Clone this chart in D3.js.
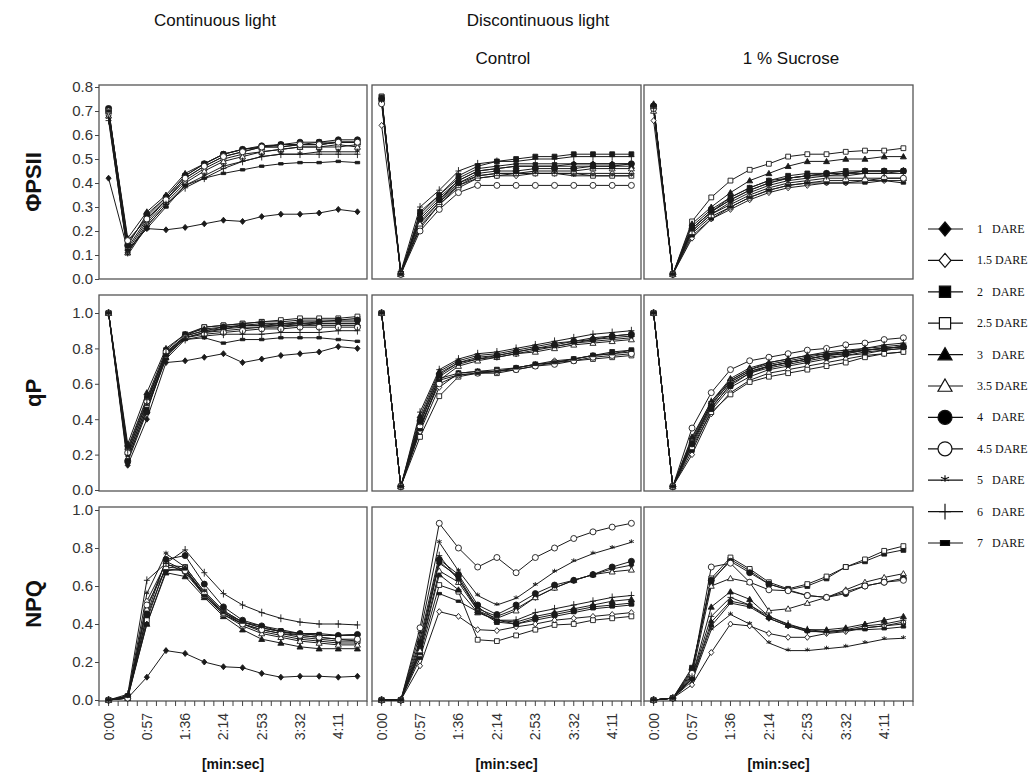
<!DOCTYPE html>
<html><head><meta charset="utf-8">
<script src="https://cdn.jsdelivr.net/npm/d3@7"></script>
<style>body{margin:0;background:#fff}</style>
</head><body><svg id="c" width="1034" height="773"></svg>
<script>
// ---------- data ----------
const seriesNames = ["1 DARE","1.5 DARE","2 DARE","2.5 DARE","3 DARE","3.5 DARE","4 DARE","4.5 DARE","5 DARE","6 DARE","7 DARE"];
const legendLabels = ["1   DARE","1.5 DARE","2   DARE","2.5 DARE","3   DARE","3.5 DARE","4   DARE","4.5 DARE","5   DARE","6   DARE","7   DARE"];
const markerTypes = ["diamondF","diamondO","squareF","squareO","triangleF","triangleO","circleF","circleO","asterisk","plus","bar"];
const timeLabels = ["0:00","","0:57","","1:36","","2:14","","2:53","","3:32","","4:11",""];
const columnTitles = ["Continuous light","Control","1 % Sucrose"];
const groupTitle = "Discontinuous light";
const rowTitles = ["ΦPSII","qP","NPQ"];
const phiTicks = [0,0.1,0.2,0.3,0.4,0.5,0.6,0.7,0.8];
const unitTicks = [0,0.2,0.4,0.6,0.8,1.0];

const phiCont = [
 [0.42,0.12,0.21,0.205,0.215,0.23,0.245,0.24,0.26,0.27,0.27,0.275,0.29,0.28],
 [0.70,0.12,0.24,0.33,0.42,0.47,0.51,0.53,0.55,0.55,0.56,0.56,0.57,0.57],
 [0.71,0.15,0.26,0.34,0.43,0.48,0.52,0.54,0.55,0.56,0.56,0.57,0.57,0.57],
 [0.69,0.13,0.25,0.33,0.41,0.46,0.50,0.52,0.53,0.54,0.55,0.55,0.55,0.56],
 [0.70,0.17,0.28,0.35,0.44,0.48,0.52,0.54,0.55,0.56,0.56,0.56,0.57,0.57],
 [0.68,0.11,0.23,0.32,0.40,0.45,0.49,0.51,0.53,0.54,0.55,0.55,0.56,0.55],
 [0.71,0.14,0.27,0.34,0.43,0.48,0.52,0.54,0.555,0.56,0.57,0.57,0.58,0.58],
 [0.70,0.16,0.25,0.33,0.42,0.47,0.51,0.53,0.55,0.55,0.56,0.56,0.57,0.57],
 [0.67,0.10,0.22,0.31,0.39,0.43,0.47,0.49,0.51,0.52,0.52,0.53,0.53,0.53],
 [0.66,0.11,0.22,0.31,0.38,0.42,0.46,0.49,0.51,0.52,0.52,0.52,0.52,0.52],
 [0.70,0.12,0.21,0.30,0.39,0.42,0.44,0.455,0.47,0.48,0.485,0.485,0.49,0.485]
];
const phiCtrl = [
 [0.75,0.03,0.25,0.33,0.41,0.45,0.46,0.47,0.47,0.47,0.48,0.48,0.48,0.48],
 [0.64,0.03,0.21,0.31,0.39,0.42,0.43,0.43,0.44,0.44,0.44,0.44,0.44,0.44],
 [0.76,0.02,0.28,0.35,0.43,0.47,0.49,0.50,0.51,0.51,0.52,0.52,0.52,0.52],
 [0.76,0.02,0.22,0.31,0.38,0.42,0.43,0.44,0.44,0.44,0.44,0.43,0.43,0.43],
 [0.75,0.02,0.26,0.34,0.41,0.45,0.46,0.47,0.47,0.47,0.47,0.47,0.47,0.47],
 [0.74,0.02,0.23,0.32,0.39,0.43,0.44,0.44,0.45,0.45,0.45,0.46,0.46,0.46],
 [0.75,0.02,0.25,0.33,0.40,0.44,0.45,0.45,0.46,0.46,0.46,0.47,0.47,0.48],
 [0.73,0.02,0.20,0.29,0.36,0.39,0.39,0.39,0.39,0.39,0.39,0.39,0.39,0.39],
 [0.74,0.03,0.24,0.32,0.40,0.43,0.44,0.44,0.44,0.44,0.43,0.43,0.43,0.43],
 [0.75,0.03,0.30,0.37,0.45,0.48,0.49,0.49,0.50,0.50,0.51,0.51,0.51,0.51],
 [0.76,0.02,0.27,0.35,0.42,0.46,0.47,0.48,0.48,0.48,0.48,0.48,0.48,0.48]
];
const phiSuc = [
 [0.72,0.02,0.21,0.28,0.33,0.37,0.40,0.42,0.43,0.44,0.44,0.45,0.45,0.45],
 [0.66,0.02,0.17,0.25,0.29,0.33,0.36,0.38,0.39,0.40,0.40,0.41,0.41,0.41],
 [0.72,0.02,0.22,0.29,0.34,0.38,0.41,0.43,0.44,0.44,0.45,0.45,0.45,0.45],
 [0.72,0.02,0.24,0.34,0.41,0.455,0.48,0.51,0.52,0.52,0.53,0.535,0.535,0.545],
 [0.73,0.02,0.23,0.30,0.36,0.41,0.44,0.47,0.49,0.49,0.50,0.50,0.51,0.51],
 [0.70,0.02,0.20,0.27,0.31,0.35,0.38,0.40,0.41,0.42,0.42,0.42,0.42,0.42],
 [0.72,0.02,0.21,0.28,0.33,0.37,0.40,0.42,0.43,0.44,0.44,0.45,0.45,0.45],
 [0.71,0.02,0.19,0.26,0.30,0.34,0.37,0.39,0.40,0.41,0.41,0.41,0.42,0.42],
 [0.72,0.02,0.21,0.28,0.34,0.38,0.41,0.42,0.43,0.43,0.44,0.44,0.44,0.44],
 [0.71,0.02,0.20,0.27,0.32,0.36,0.39,0.41,0.42,0.43,0.43,0.44,0.44,0.45],
 [0.72,0.02,0.18,0.25,0.30,0.34,0.37,0.39,0.40,0.40,0.40,0.40,0.41,0.40]
];
const qpCont = [
 [1.0,0.14,0.40,0.72,0.73,0.75,0.77,0.72,0.74,0.76,0.77,0.78,0.81,0.80],
 [1.0,0.20,0.47,0.76,0.87,0.90,0.91,0.93,0.93,0.94,0.94,0.95,0.95,0.95],
 [1.0,0.24,0.52,0.79,0.88,0.92,0.93,0.94,0.95,0.95,0.96,0.96,0.96,0.97],
 [1.0,0.22,0.49,0.78,0.87,0.92,0.93,0.94,0.95,0.96,0.97,0.97,0.97,0.98],
 [1.0,0.26,0.55,0.80,0.88,0.91,0.92,0.93,0.93,0.93,0.94,0.94,0.94,0.94],
 [1.0,0.18,0.45,0.75,0.86,0.89,0.90,0.91,0.92,0.92,0.93,0.93,0.93,0.93],
 [1.0,0.16,0.44,0.77,0.87,0.90,0.92,0.93,0.94,0.94,0.95,0.95,0.96,0.96],
 [1.0,0.21,0.50,0.78,0.86,0.88,0.89,0.90,0.91,0.91,0.92,0.92,0.92,0.92],
 [1.0,0.19,0.48,0.76,0.86,0.89,0.91,0.92,0.92,0.93,0.93,0.94,0.94,0.94],
 [1.0,0.23,0.51,0.77,0.85,0.87,0.88,0.88,0.88,0.89,0.89,0.89,0.90,0.90],
 [1.0,0.17,0.46,0.74,0.85,0.86,0.83,0.85,0.85,0.86,0.86,0.86,0.85,0.84]
];
const qpCtrl = [
 [1.0,0.02,0.40,0.66,0.72,0.74,0.75,0.77,0.79,0.81,0.83,0.85,0.86,0.87],
 [1.0,0.02,0.33,0.58,0.66,0.67,0.67,0.69,0.71,0.73,0.74,0.76,0.77,0.78],
 [1.0,0.02,0.38,0.63,0.66,0.67,0.68,0.69,0.71,0.72,0.74,0.76,0.78,0.79],
 [1.0,0.02,0.30,0.53,0.64,0.66,0.66,0.68,0.70,0.72,0.73,0.74,0.75,0.76],
 [1.0,0.02,0.42,0.67,0.73,0.76,0.77,0.79,0.81,0.83,0.84,0.86,0.87,0.88],
 [1.0,0.02,0.35,0.62,0.70,0.73,0.75,0.77,0.78,0.80,0.82,0.83,0.84,0.85],
 [1.0,0.02,0.39,0.65,0.72,0.75,0.76,0.78,0.80,0.82,0.84,0.85,0.87,0.88],
 [1.0,0.02,0.36,0.60,0.65,0.66,0.67,0.68,0.70,0.71,0.73,0.75,0.76,0.77],
 [1.0,0.02,0.37,0.64,0.71,0.74,0.76,0.78,0.80,0.81,0.83,0.84,0.85,0.86],
 [1.0,0.02,0.44,0.68,0.74,0.77,0.78,0.80,0.82,0.84,0.86,0.88,0.89,0.90],
 [1.0,0.02,0.34,0.62,0.65,0.66,0.67,0.69,0.71,0.72,0.74,0.76,0.77,0.79]
];
const qpSuc = [
 [1.0,0.02,0.25,0.46,0.60,0.66,0.69,0.71,0.73,0.75,0.76,0.78,0.79,0.80],
 [1.0,0.02,0.20,0.43,0.55,0.62,0.66,0.68,0.70,0.72,0.74,0.76,0.77,0.78],
 [1.0,0.02,0.27,0.48,0.61,0.67,0.70,0.72,0.74,0.76,0.77,0.79,0.80,0.81],
 [1.0,0.02,0.24,0.44,0.54,0.61,0.64,0.66,0.68,0.70,0.72,0.75,0.77,0.78],
 [1.0,0.02,0.30,0.50,0.63,0.69,0.72,0.74,0.76,0.77,0.78,0.80,0.81,0.82],
 [1.0,0.02,0.28,0.49,0.62,0.68,0.71,0.73,0.75,0.77,0.78,0.79,0.80,0.81],
 [1.0,0.02,0.26,0.47,0.59,0.66,0.70,0.72,0.74,0.76,0.77,0.79,0.80,0.81],
 [1.0,0.02,0.35,0.55,0.68,0.73,0.75,0.77,0.79,0.80,0.82,0.83,0.85,0.86],
 [1.0,0.02,0.27,0.48,0.61,0.67,0.70,0.72,0.74,0.76,0.78,0.79,0.80,0.81],
 [1.0,0.02,0.29,0.50,0.62,0.68,0.72,0.74,0.76,0.78,0.79,0.80,0.82,0.83],
 [1.0,0.02,0.22,0.45,0.58,0.64,0.68,0.70,0.72,0.74,0.76,0.77,0.79,0.80]
];
const npqCont = [
 [0.0,0.01,0.12,0.26,0.245,0.20,0.175,0.17,0.14,0.12,0.125,0.125,0.12,0.125],
 [0.0,0.01,0.52,0.72,0.67,0.55,0.45,0.40,0.36,0.34,0.32,0.31,0.30,0.30],
 [0.0,0.02,0.44,0.70,0.69,0.56,0.46,0.40,0.37,0.35,0.33,0.32,0.31,0.31],
 [0.0,0.01,0.42,0.71,0.70,0.57,0.47,0.41,0.38,0.36,0.34,0.33,0.32,0.31],
 [0.0,0.01,0.40,0.67,0.65,0.54,0.44,0.37,0.32,0.30,0.28,0.27,0.27,0.27],
 [0.0,0.02,0.48,0.73,0.68,0.55,0.45,0.39,0.35,0.33,0.31,0.30,0.29,0.29],
 [0.0,0.02,0.45,0.74,0.76,0.61,0.49,0.42,0.39,0.36,0.35,0.34,0.34,0.345],
 [0.0,0.01,0.50,0.69,0.68,0.56,0.46,0.40,0.37,0.35,0.34,0.33,0.32,0.32],
 [0.0,0.02,0.56,0.77,0.70,0.57,0.47,0.41,0.38,0.36,0.35,0.34,0.34,0.34],
 [0.0,0.03,0.63,0.72,0.79,0.67,0.56,0.50,0.46,0.43,0.41,0.40,0.40,0.395],
 [0.0,0.02,0.40,0.68,0.69,0.55,0.46,0.41,0.39,0.37,0.35,0.35,0.34,0.345]
];
const npqCtrl = [
 [0.0,0.0,0.28,0.72,0.65,0.48,0.44,0.48,0.54,0.59,0.63,0.66,0.69,0.71],
 [0.0,0.0,0.18,0.465,0.44,0.37,0.365,0.385,0.40,0.42,0.43,0.44,0.45,0.46],
 [0.0,0.0,0.27,0.73,0.64,0.47,0.41,0.40,0.43,0.45,0.47,0.49,0.50,0.51],
 [0.0,0.0,0.24,0.605,0.57,0.317,0.31,0.34,0.37,0.395,0.40,0.42,0.43,0.44],
 [0.0,0.0,0.25,0.66,0.58,0.46,0.42,0.41,0.44,0.46,0.48,0.50,0.52,0.53],
 [0.0,0.0,0.26,0.68,0.62,0.47,0.43,0.47,0.54,0.59,0.63,0.66,0.675,0.685],
 [0.0,0.0,0.30,0.74,0.66,0.50,0.45,0.50,0.56,0.605,0.63,0.66,0.70,0.73],
 [0.0,0.0,0.38,0.93,0.80,0.70,0.75,0.67,0.75,0.80,0.85,0.885,0.91,0.93],
 [0.0,0.0,0.35,0.83,0.68,0.55,0.50,0.535,0.605,0.675,0.73,0.77,0.80,0.83],
 [0.0,0.0,0.32,0.76,0.63,0.49,0.42,0.42,0.46,0.48,0.50,0.52,0.54,0.55],
 [0.0,0.0,0.22,0.56,0.52,0.465,0.42,0.40,0.42,0.44,0.46,0.48,0.49,0.50]
];
const npqSuc = [
 [0.0,0.01,0.11,0.41,0.52,0.50,0.43,0.39,0.365,0.355,0.365,0.38,0.39,0.40],
 [0.0,0.01,0.08,0.25,0.40,0.39,0.35,0.33,0.33,0.35,0.36,0.38,0.39,0.41],
 [0.0,0.01,0.17,0.62,0.74,0.68,0.61,0.58,0.60,0.64,0.70,0.73,0.77,0.79],
 [0.0,0.01,0.15,0.64,0.75,0.69,0.62,0.585,0.61,0.65,0.70,0.74,0.785,0.81],
 [0.0,0.01,0.12,0.49,0.57,0.53,0.44,0.395,0.37,0.37,0.38,0.40,0.42,0.44],
 [0.0,0.01,0.13,0.60,0.64,0.62,0.47,0.48,0.51,0.54,0.58,0.62,0.645,0.665],
 [0.0,0.01,0.16,0.63,0.73,0.67,0.61,0.58,0.55,0.54,0.56,0.60,0.62,0.64],
 [0.0,0.01,0.14,0.70,0.72,0.62,0.58,0.575,0.55,0.54,0.57,0.60,0.62,0.63],
 [0.0,0.01,0.10,0.37,0.45,0.40,0.30,0.26,0.26,0.27,0.28,0.30,0.32,0.325],
 [0.0,0.01,0.12,0.44,0.54,0.50,0.44,0.40,0.37,0.36,0.37,0.39,0.40,0.42],
 [0.0,0.01,0.11,0.39,0.51,0.49,0.43,0.39,0.36,0.36,0.37,0.37,0.375,0.385]
];

const panels = [
 [phiCont, phiCtrl, phiSuc],
 [qpCont, qpCtrl, qpSuc],
 [npqCont, npqCtrl, npqSuc]
];

// ---------- layout ----------
const svg = d3.select("#c");
const cols = [{x0:99,x1:367},{x0:372,x1:641},{x0:644,x1:913}];
const rows = [
  {top:85, bottom:279, domain:[0,0.8], r:[279,87], ticks:phiTicks},
  {top:295, bottom:491, domain:[0,1], r:[490,313], ticks:unitTicks},
  {top:507, bottom:701, domain:[0,1], r:[700,510], ticks:unitTicks}
];
const FONT = "'Liberation Sans', Arial, sans-serif";
const LINE = "#1a1a1a";

function markerPath(type, s) {
  const p = d3.path();
  switch (type) {
    case "diamondF": case "diamondO":
      p.moveTo(0,-s); p.lineTo(s*0.85,0); p.lineTo(0,s); p.lineTo(-s*0.85,0); p.closePath(); break;
    case "squareF": case "squareO":
      p.rect(-s*0.8,-s*0.8,s*1.6,s*1.6); break;
    case "triangleF": case "triangleO":
      p.moveTo(0,-s); p.lineTo(s,s*0.75); p.lineTo(-s,s*0.75); p.closePath(); break;
    case "circleF": case "circleO":
      p.ellipse ? p.ellipse(0,0,s,s*0.8,0,0,2*Math.PI) : p.arc(0,0,s,0,2*Math.PI); p.closePath(); break;
    case "asterisk":
      p.moveTo(0,-s); p.lineTo(0,s*0.3);
      p.moveTo(-s*0.8,-s*0.6); p.lineTo(s*0.8,s*0.1);
      p.moveTo(s*0.8,-s*0.6); p.lineTo(-s*0.8,s*0.1); break;
    case "plus":
      p.moveTo(0,-s*1.3); p.lineTo(0,s*1.3); p.moveTo(-s,0); p.lineTo(s,0); break;
    case "bar":
      p.rect(-s*0.75,-s*0.4,s*1.5,s*0.8); break;
  }
  return p.toString();
}
function isFilled(t){ return t.endsWith("F") || t==="bar"; }

// ---------- panels ----------
rows.forEach((row, ri) => {
  const y = d3.scaleLinear().domain(row.domain).range(row.r);
  cols.forEach((col, ci) => {
    const x = d3.scaleBand().domain(d3.range(14)).range([col.x0, col.x1]);
    const cx = i => x(i) + x.bandwidth()/2;
    const g = svg.append("g");
    g.append("rect").attr("x", col.x0).attr("y", row.top)
      .attr("width", col.x1-col.x0).attr("height", row.bottom-row.top)
      .attr("fill","none").attr("stroke","#555").attr("stroke-width",1.3);
    if (ci === 0) {
      const ax = d3.axisLeft(y).tickValues(row.ticks).tickFormat(d3.format(".1f")).tickSize(4).tickPadding(2);
      const ga = svg.append("g").attr("transform",`translate(${col.x0},0)`).call(ax);
      ga.select(".domain").remove();
      ga.selectAll("line").attr("stroke","#444");
      ga.selectAll("text").attr("font-family",FONT).attr("font-size",15).attr("fill","#333");
    }
    if (ri === 2) {
      const tickPos = [];
      for (let k=0;k<=28;k++) tickPos.push(col.x0 + k*(col.x1-col.x0)/28);
      g.selectAll("line.xt").data(tickPos).enter().append("line")
        .attr("x1",d=>d).attr("x2",d=>d).attr("y1",row.bottom).attr("y2",row.bottom+5)
        .attr("stroke","#444");
      g.selectAll("text.xl").data(timeLabels.map((t,i)=>({t,i})).filter(d=>d.t)).enter().append("text")
        .attr("transform", d=>`translate(${cx(d.i)+5},${row.bottom+12}) rotate(-90)`)
        .attr("text-anchor","end").attr("font-family",FONT).attr("font-size",14).attr("fill","#333")
        .text(d=>d.t);
      svg.append("text").attr("x",(col.x0+col.x1)/2).attr("y",769)
        .attr("text-anchor","middle").attr("font-family",FONT).attr("font-weight","bold")
        .attr("font-size",14).attr("fill","#111").text("[min:sec]");
    }
    const data = panels[ri][ci];
    const line = d3.line().x((d,i)=>cx(i)).y(d=>y(d));
    data.forEach((vals) => {
      g.append("path").attr("d", line(vals)).attr("fill","none").attr("stroke",LINE).attr("stroke-width",1);
    });
    data.forEach((vals, si) => {
      const t = markerTypes[si];
      g.selectAll(null).data(vals).enter().append("path")
        .attr("transform",(d,i)=>`translate(${cx(i)},${y(d)})`)
        .attr("d", markerPath(t, 3))
        .attr("fill", t==="asterisk"||t==="plus" ? "none" : (isFilled(t) ? LINE : "#fff"))
        .attr("stroke", LINE).attr("stroke-width", 0.9);
    });
  });
});

// ---------- titles ----------
const tf = (x,y,txt,size,weight) => svg.append("text").attr("x",x).attr("y",y).attr("text-anchor","middle")
  .attr("font-family",FONT).attr("font-size",size).attr("font-weight",weight||"normal").attr("fill","#111").text(txt);
tf(215, 26, columnTitles[0], 17);
tf(538, 26, groupTitle, 17);
tf(503, 64, columnTitles[1], 17);
tf(791, 64, columnTitles[2], 17);
rows.forEach((row, ri) => {
  svg.append("text").attr("transform",`translate(41,${(row.top+row.bottom)/2}) rotate(-90)`)
    .attr("text-anchor","middle").attr("font-family",FONT).attr("font-weight","bold")
    .attr("font-size",22).attr("fill","#111").text(rowTitles[ri]);
});

// ---------- legend ----------
const lg = svg.append("g");
seriesNames.forEach((nm, si) => {
  const ly = 229 + si*31.4;
  const t = markerTypes[si];
  lg.append("line").attr("x1",928).attr("x2",963).attr("y1",ly).attr("y2",ly).attr("stroke","#111").attr("stroke-width",1.2);
  const s = t==="bar" ? 6 : (t==="asterisk" ? 5 : (t==="plus" ? 6 : 7));
  lg.append("path").attr("transform",`translate(945,${ly})`).attr("d", markerPath(t, s))
    .attr("fill", t==="asterisk"||t==="plus" ? "none" : (isFilled(t) ? "#000" : "#fff"))
    .attr("stroke","#111").attr("stroke-width",1.2);
  lg.append("text").attr("x",977).attr("y",ly+4).attr("font-family","'Liberation Serif', 'Times New Roman', serif")
    .attr("font-size",12).attr("fill","#111").style("white-space","pre").text(legendLabels[si]);
});
</script>
</body></html>
